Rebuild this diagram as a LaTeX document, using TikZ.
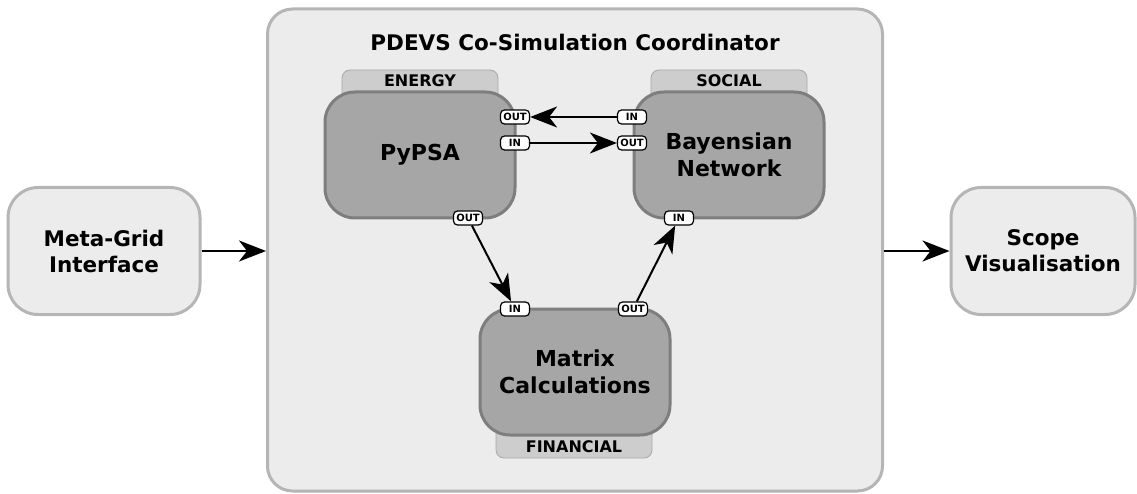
\documentclass[tikz,border=0pt]{standalone}
\usepackage{fontspec}
\setmainfont{DejaVu Sans}
\usepackage{xcolor}
\usetikzlibrary{arrows.meta,positioning,calc}

\definecolor{paneBg}{HTML}{ECECEC}
\definecolor{paneLine}{HTML}{B5B5B5}
\definecolor{modBg}{HTML}{A6A6A6}
\definecolor{modLine}{HTML}{7E7E7E}
\definecolor{tabBg}{HTML}{CDCDCD}
\definecolor{tabLine}{HTML}{A8A8A8}

\begin{document}
\begin{tikzpicture}[
  x=1pt, y=-1pt,
  >={Stealth[length=27pt, width=21pt, inset=8pt]},
  pane/.style={rectangle, draw=paneLine, fill=paneBg, line width=3pt, rounded corners=30pt, align=center, font=\bfseries\fontsize{21.5}{26}\selectfont},
  module/.style={rectangle, draw=modLine, fill=modBg, line width=3pt, rounded corners=30pt, align=center, minimum width=190pt, minimum height=126pt, font=\bfseries\fontsize{22}{27}\selectfont},
  tab/.style={rectangle, draw=tabLine, fill=tabBg, line width=0.8pt, rounded corners=8pt, minimum width=156pt, minimum height=36pt},
  tablabel/.style={font=\bfseries\fontsize{16}{18}\selectfont, inner sep=0pt},
  port/.style={rectangle, draw=black, fill=white, line width=1.2pt, rounded corners=4pt, minimum width=29pt, minimum height=14pt, inner sep=0pt, font=\bfseries\fontsize{10}{11}\selectfont},
  line/.style={->, line width=2pt}
]
\useasboundingbox (0,0) rectangle (1137,494);

% Outer blocks
\node[pane, minimum width=192pt, minimum height=127pt] (meta) at (104,251) {Meta-Grid\\Interface};
\node[pane, minimum width=184pt, minimum height=127pt] (scope) at (1043,251) {Scope\\Visualisation};
\node[pane, rounded corners=25pt, minimum width=615pt, minimum height=482pt] (coord) at (575,250) {};
\node[font=\bfseries\fontsize{21.5}{26}\selectfont] (title) at (575,42) {PDEVS Co-Simulation Coordinator};

% Domain tabs
\node[tab] (etab) at (420,88) {};
\node[tab] (stab) at (729,88) {};
\node[tab] (ftab) at (574,440) {};
\node[tablabel] at (420,81) {ENERGY};
\node[tablabel] at (729,81) {SOCIAL};
\node[tablabel] at (574,447) {FINANCIAL};

% Simulation modules
\node[module] (pypsa) at (420,155) {PyPSA};
\node[module] (bayes) at (729,155) {Bayensian\\Network};
\node[module] (matrix) at (575,372) {Matrix\\Calculations};

% Ports
\node[port] (eOut) at (515,117) {OUT};
\node[port] (eIn) at (515,143) {IN};
\node[port] (sIn) at (632,117) {IN};
\node[port] (sOut) at (632,143) {OUT};
\node[port] (eOutB) at (468,218) {OUT};
\node[port] (sInB) at (679,218) {IN};
\node[port] (fIn) at (515,309) {IN};
\node[port] (fOut) at (633,309) {OUT};

% Arrows
\draw[line] (meta.east) -- (meta.east -| coord.west);
\draw[line] (scope.west -| coord.east) -- (scope.west);
\draw[line] (sIn) -- (eOut);
\draw[line] (eIn) -- (sOut);
\draw[line] (eOutB) -- (fIn);
\draw[line] (fOut) -- (sInB);
\end{tikzpicture}
\end{document}
